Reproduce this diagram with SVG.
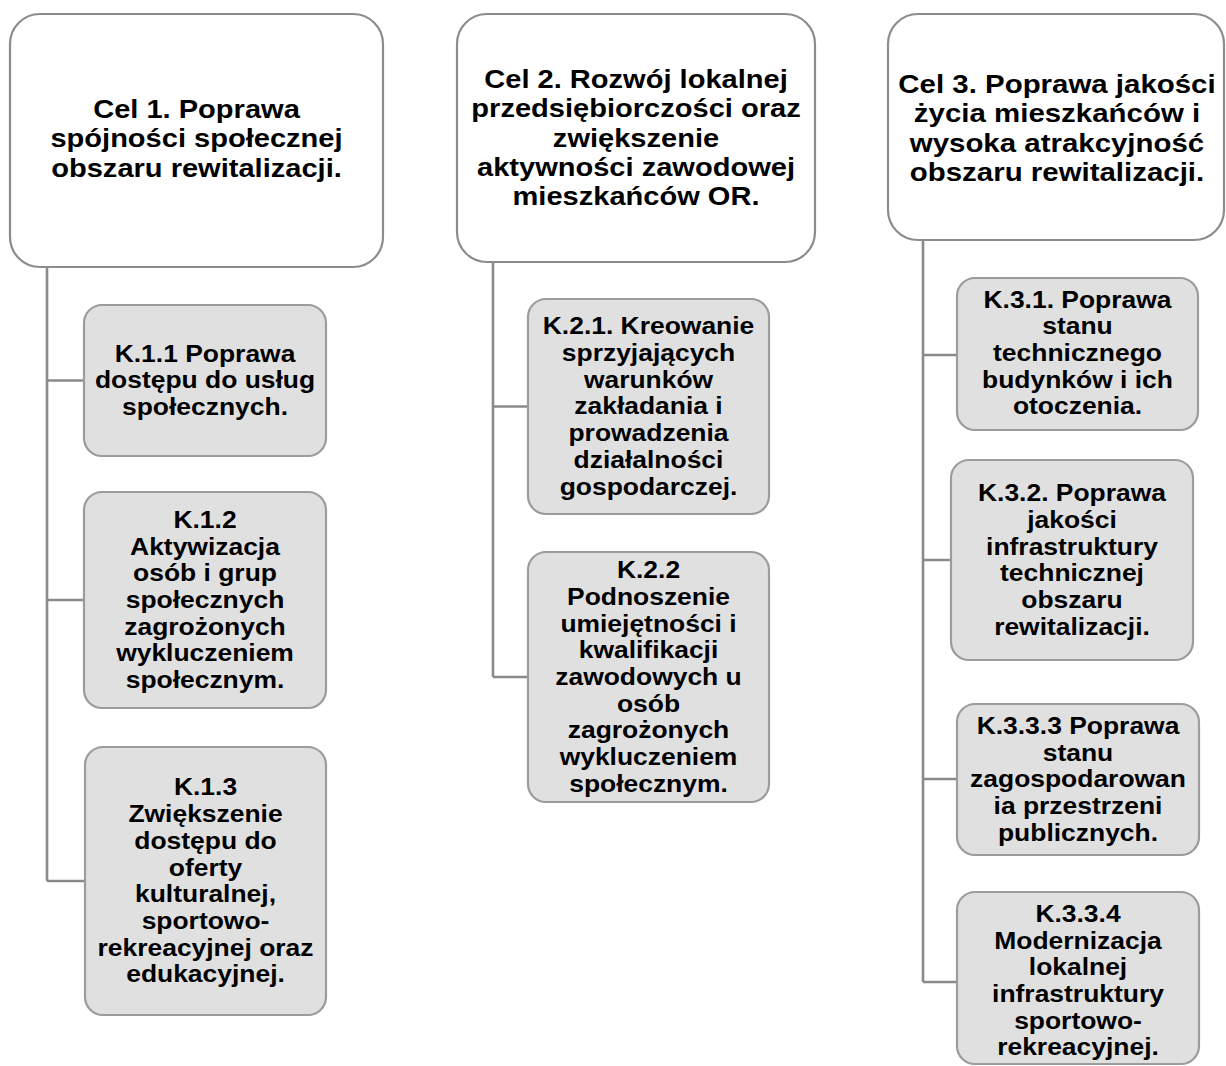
<svg xmlns="http://www.w3.org/2000/svg" width="1226" height="1066" viewBox="0 0 1226 1066">
<style>
.goal{fill:#ffffff;stroke:#8c8c8c;stroke-width:2.2}
.obj{fill:#e0e0e0;stroke:#9c9c9c;stroke-width:2.2}
.conn{fill:none;stroke:#8a8a8a;stroke-width:2.6}
.tg{font-family:"Liberation Sans",Arial,sans-serif;font-weight:bold;font-size:25.6px;fill:#000;text-anchor:middle}
.tk{font-family:"Liberation Sans",Arial,sans-serif;font-weight:bold;font-size:23.3px;fill:#000;text-anchor:middle}
</style>
<rect width="1226" height="1066" fill="#ffffff"/>
<g id="connectors">
<path class="conn" d="M47 267 V881 M47 380.5 H84 M47 600 H84 M47 881 H85"/>
<path class="conn" d="M493 262 V677 M493 406.5 H528 M493 677 H528"/>
<path class="conn" d="M923 240 V982 M923 355 H957 M923 560 H951 M923 779 H957 M923 982 H957"/>
</g>
<g id="cel1">
<rect class="goal" x="10" y="14" width="373" height="253" rx="30"/>
<text class="tg" transform="translate(196.5,0) scale(1.135,1)"><tspan x="0" y="118">Cel 1. Poprawa</tspan><tspan x="0" y="147.5">spójności społecznej</tspan><tspan x="0" y="177">obszaru rewitalizacji.</tspan></text>
</g>
<g id="cel2">
<rect class="goal" x="457" y="14" width="358" height="248" rx="30"/>
<text class="tg" transform="translate(636,0) scale(1.135,1)"><tspan x="0" y="88">Cel 2. Rozwój lokalnej</tspan><tspan x="0" y="117.3">przedsiębiorczości oraz</tspan><tspan x="0" y="146.6">zwiększenie</tspan><tspan x="0" y="175.9">aktywności zawodowej</tspan><tspan x="0" y="205.2">mieszkańców OR.</tspan></text>
</g>
<g id="cel3">
<rect class="goal" x="888" y="14" width="336" height="226" rx="30"/>
<text class="tg" transform="translate(1057,0) scale(1.15,1)"><tspan x="0" y="93">Cel 3. Poprawa jakości</tspan><tspan x="0" y="122.3">życia mieszkańców i</tspan><tspan x="0" y="151.6">wysoka atrakcyjność</tspan><tspan x="0" y="180.9">obszaru rewitalizacji.</tspan></text>
</g>
<g id="k11">
<rect class="obj" x="84" y="305" width="242" height="151" rx="18"/>
<text class="tk" transform="translate(205,0) scale(1.135,1)"><tspan x="0" y="361.8">K.1.1 Poprawa</tspan><tspan x="0" y="388.5">dostępu do usług</tspan><tspan x="0" y="415.2">społecznych.</tspan></text>
</g>
<g id="k12">
<rect class="obj" x="84" y="492" width="242" height="216" rx="18"/>
<text class="tk" transform="translate(205,0) scale(1.135,1)"><tspan x="0" y="527.9">K.1.2</tspan><tspan x="0" y="554.6">Aktywizacja</tspan><tspan x="0" y="581.3">osób i grup</tspan><tspan x="0" y="608">społecznych</tspan><tspan x="0" y="634.7">zagrożonych</tspan><tspan x="0" y="661.4">wykluczeniem</tspan><tspan x="0" y="688.1">społecznym.</tspan></text>
</g>
<g id="k13">
<rect class="obj" x="85" y="747" width="241" height="268" rx="18"/>
<text class="tk" transform="translate(205.5,0) scale(1.135,1)"><tspan x="0" y="795.5">K.1.3</tspan><tspan x="0" y="822.2">Zwiększenie</tspan><tspan x="0" y="848.9">dostępu do</tspan><tspan x="0" y="875.6">oferty</tspan><tspan x="0" y="902.3">kulturalnej,</tspan><tspan x="0" y="929">sportowo-</tspan><tspan x="0" y="955.7">rekreacyjnej oraz</tspan><tspan x="0" y="982.4">edukacyjnej.</tspan></text>
</g>
<g id="k21">
<rect class="obj" x="528" y="299" width="241" height="215" rx="18"/>
<text class="tk" transform="translate(648.5,0) scale(1.135,1)"><tspan x="0" y="334.4">K.2.1. Kreowanie</tspan><tspan x="0" y="361.1">sprzyjających</tspan><tspan x="0" y="387.8">warunków</tspan><tspan x="0" y="414.5">zakładania i</tspan><tspan x="0" y="441.2">prowadzenia</tspan><tspan x="0" y="467.9">działalności</tspan><tspan x="0" y="494.6">gospodarczej.</tspan></text>
</g>
<g id="k22">
<rect class="obj" x="528" y="552" width="241" height="250" rx="18"/>
<text class="tk" transform="translate(648.5,0) scale(1.135,1)"><tspan x="0" y="578.2">K.2.2</tspan><tspan x="0" y="604.9">Podnoszenie</tspan><tspan x="0" y="631.6">umiejętności i</tspan><tspan x="0" y="658.3">kwalifikacji</tspan><tspan x="0" y="685">zawodowych u</tspan><tspan x="0" y="711.7">osób</tspan><tspan x="0" y="738.4">zagrożonych</tspan><tspan x="0" y="765.1">wykluczeniem</tspan><tspan x="0" y="791.8">społecznym.</tspan></text>
</g>
<g id="k31">
<rect class="obj" x="957" y="278" width="241" height="152" rx="18"/>
<text class="tk" transform="translate(1077.5,0) scale(1.135,1)"><tspan x="0" y="307.6">K.3.1. Poprawa</tspan><tspan x="0" y="334.3">stanu</tspan><tspan x="0" y="361">technicznego</tspan><tspan x="0" y="387.7">budynków i ich</tspan><tspan x="0" y="414.4">otoczenia.</tspan></text>
</g>
<g id="k32">
<rect class="obj" x="951" y="460" width="242" height="200" rx="18"/>
<text class="tk" transform="translate(1072,0) scale(1.135,1)"><tspan x="0" y="501.3">K.3.2. Poprawa</tspan><tspan x="0" y="528">jakości</tspan><tspan x="0" y="554.7">infrastruktury</tspan><tspan x="0" y="581.4">technicznej</tspan><tspan x="0" y="608.1">obszaru</tspan><tspan x="0" y="634.8">rewitalizacji.</tspan></text>
</g>
<g id="k333">
<rect class="obj" x="957" y="704" width="242" height="151" rx="18"/>
<text class="tk" transform="translate(1078,0) scale(1.135,1)"><tspan x="0" y="734.1">K.3.3.3 Poprawa</tspan><tspan x="0" y="760.8">stanu</tspan><tspan x="0" y="787.5">zagospodarowan</tspan><tspan x="0" y="814.2">ia przestrzeni</tspan><tspan x="0" y="840.9">publicznych.</tspan></text>
</g>
<g id="k334">
<rect class="obj" x="957" y="892" width="242" height="172" rx="18"/>
<text class="tk" transform="translate(1078,0) scale(1.135,1)"><tspan x="0" y="922">K.3.3.4</tspan><tspan x="0" y="948.7">Modernizacja</tspan><tspan x="0" y="975.4">lokalnej</tspan><tspan x="0" y="1002.1">infrastruktury</tspan><tspan x="0" y="1028.8">sportowo-</tspan><tspan x="0" y="1055.5">rekreacyjnej.</tspan></text>
</g>
</svg>
